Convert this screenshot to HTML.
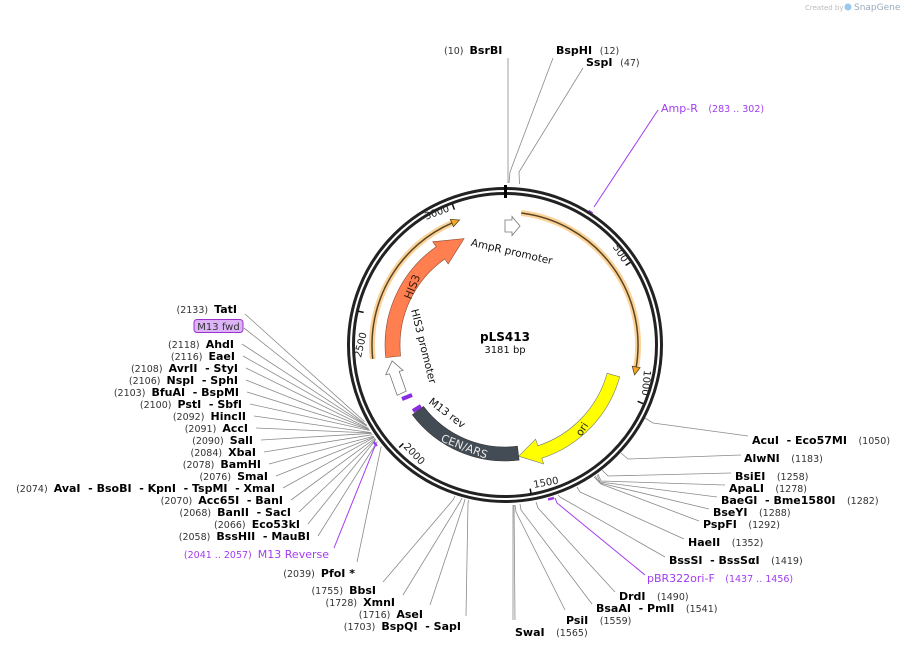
<!DOCTYPE html>
<html><head><meta charset="utf-8"><style>
html,body{margin:0;padding:0;background:#fff;}
svg{display:block;font-family:"DejaVu Sans","Liberation Sans",sans-serif;}
.b{font-weight:bold;font-size:11px;fill:#000;}
.n{font-size:9.5px;fill:#333;}
.p{fill:#a23cf0;font-size:11px;}
.pn{fill:#a23cf0;font-size:9.5px;}
text{white-space:pre;}
.l{stroke:#8a8a8a;stroke-width:0.8;fill:none;}
.t{font-size:10px;fill:#222;}
</style></head><body>
<svg width="902" height="649" viewBox="0 0 902 649" xmlns="http://www.w3.org/2000/svg">
<text x="805" y="10" style="font-size:7px;fill:#bbb">Created by</text>
<circle cx="848" cy="7" r="3.5" fill="#9cc8ec"/>
<text x="854" y="10" style="font-size:9px;fill:#9ab">SnapGene</text>

<!-- label lines -->
<g class="l">
<polyline points="508,58 508,170 508,183"/>
<polyline points="553,58 510,172 509,183"/>
<polyline points="583,68 519,172 519.5,184"/>
<line x1="245" y1="314" x2="364.5" y2="421.6"/>
<line x1="244" y1="328" x2="366.4" y2="425"/>
<line x1="242" y1="344" x2="366.9" y2="425.7"/>
<line x1="243" y1="356" x2="367" y2="426.2"/>
<line x1="246" y1="368" x2="368.4" y2="428.4"/>
<line x1="246" y1="380" x2="368.9" y2="429.1"/>
<line x1="247" y1="392" x2="369.3" y2="429.8"/>
<line x1="250" y1="404" x2="369.8" y2="430.5"/>
<line x1="254" y1="416" x2="371.1" y2="432.6"/>
<line x1="256" y1="428" x2="371.4" y2="433"/>
<line x1="261" y1="440" x2="371.6" y2="433.3"/>
<line x1="264" y1="452" x2="372.5" y2="434.7"/>
<line x1="269" y1="464" x2="373.6" y2="436.3"/>
<line x1="276" y1="476" x2="374" y2="436.9"/>
<line x1="283" y1="488" x2="374.3" y2="437.3"/>
<line x1="291" y1="500" x2="375" y2="438.3"/>
<line x1="299" y1="512" x2="375.6" y2="439"/>
<line x1="308" y1="524" x2="375.9" y2="439.5"/>
<line x1="318" y1="536" x2="377.4" y2="441.5"/>
<line x1="357" y1="562" x2="381.2" y2="446.3"/>
<polyline points="645,418 653,423 748,436"/>
<polyline points="621,453 628,459 741,455"/>
<polyline points="602,470 608,476 731,473"/>
<polyline points="598,474 601,481 725,485"/>
<polyline points="597,475 600,482 717,497"/>
<polyline points="595,476 600,483 709,509"/>
<polyline points="594,477 601,484 699,521"/>
<polyline points="577,487 580,492 684,539"/>
<polyline points="558,495 560,497 665,557"/>
<polyline points="536,502 538,508 615,592"/>
<polyline points="520,504 521,510 592,604"/>
<polyline points="515,505 516,512 565,610"/>
<line x1="514" y1="505" x2="515" y2="620"/>
<line x1="513" y1="505" x2="513" y2="620"/>
<polyline points="469,500 468,503 466,616"/>
<polyline points="465,499 464,503 430,605"/>
<polyline points="462,498 460,502 403,595"/>
<polyline points="455,496 453,500 383,582"/>
</g>
<!-- purple primer lines -->
<g stroke="#a23cf0" stroke-width="1" fill="none">
<line x1="658" y1="110" x2="594" y2="207"/>
<line x1="334" y1="548" x2="375" y2="446"/>
<polyline points="645,575 557,503 555,498"/>
</g>
<g stroke="#a23cf0" stroke-width="2.5" fill="none">
<path d="M 588.5 211 A 162 162 0 0 1 592.5 213.5"/>
<path d="M 376.8 446 A 163 163 0 0 1 373.8 442"/>
<path d="M 554 498 A 160 160 0 0 1 548 499.4"/>
</g>

<!-- rings -->
<circle cx="505" cy="345" r="156.5" fill="none" stroke="#222" stroke-width="3"/>
<circle cx="505" cy="345" r="151.5" fill="none" stroke="#222" stroke-width="3"/>
<line x1="505.5" y1="185" x2="505.5" y2="198" stroke="#000" stroke-width="3"/>
<!-- ticks -->
<g stroke="#111" stroke-width="1.5">
<line x1="625.6" y1="265.4" x2="630.3" y2="262.4"/>
<line x1="637.6" y1="401.3" x2="643" y2="403.6"/>
<line x1="530.2" y1="488.6" x2="531.2" y2="494.5"/>
<line x1="403.4" y1="443.4" x2="399.2" y2="447.4"/>
<line x1="363.6" y1="312.4" x2="357.8" y2="311.1"/>
<line x1="454.4" y1="209.6" x2="452.3" y2="204"/>
</g>
<g class="t">
<text transform="translate(623,263) rotate(56.6)" text-anchor="end">500</text>
<text transform="translate(644,370) rotate(95)" text-anchor="start">1000</text>
<text transform="translate(534,488) rotate(-10)">1500</text>
<text transform="translate(403,447) rotate(46)">2000</text>
<text transform="translate(361,358) rotate(-77)" text-anchor="start">2500</text>
<text transform="translate(450,211) rotate(-20.5)" text-anchor="end">3000</text>
</g>

<!-- AmpR band right -->
<path d="M 521.2 213 A 133 133 0 0 1 635.6 370.4" fill="none" stroke="#fbd39a" stroke-width="6"/>
<path d="M 521.2 213 A 133 133 0 0 1 635.6 370.4" fill="none" stroke="#5b4520" stroke-width="1.5"/>
<polygon points="634.6,374.9 632.2,366.3 640.1,367.6" fill="#f5a623" stroke="#5b4520" stroke-width="0.8"/>
<!-- left band -->
<path d="M 372.7 358.9 A 133 133 0 0 1 453 222.6" fill="none" stroke="#fbd39a" stroke-width="6"/>
<path d="M 372.7 358.9 A 133 133 0 0 1 453 222.6" fill="none" stroke="#5b4520" stroke-width="1.5"/>
<polygon points="459.5,220 453.5,226.7 450.3,219.4" fill="#f5a623" stroke="#5b4520" stroke-width="0.8"/>

<!-- HIS3 -->
<path d="M 385.7 357.5 A 120 120 0 0 1 436.2 246.7 L 432.7 241.8 L 464.1 238.6 L 448.2 263.9 L 444.8 259 A 105 105 0 0 0 400.6 356 Z" fill="#ff7f50" stroke="#8a4a30" stroke-width="0.6"/>
<text transform="translate(411,300) rotate(-68)" style="font-size:11px;fill:#3a1a0a">HIS3</text>
<!-- HIS3 promoter -->
<polygon points="397.2,395.3 389.5,373.8 385.7,374.8 392.1,360.9 403.1,370.4 399.2,371.4 406.2,391.1" fill="#fff" stroke="#777" stroke-width="0.8"/>
<text transform="translate(411,310) rotate(76)" style="font-size:10.5px;fill:#111">HIS3 promoter</text>
<!-- AmpR promoter -->
<polygon points="505,220 512,220 512,216.5 520,226 512,235.5 512,232 505,232" fill="#fff" stroke="#777" stroke-width="0.8"/>
<text transform="translate(511,255) rotate(13)" text-anchor="middle" style="font-size:10.5px;fill:#111">AmpR promoter</text>

<!-- ori -->
<path d="M 619.7 376.8 A 119 119 0 0 1 541.8 458.2 L 543.6 463.9 L 518.7 456.2 L 535.6 439.2 L 537.8 445.8 A 106 106 0 0 0 607.1 373.3 Z" fill="#ffff00" stroke="#777" stroke-width="0.6"/>
<text transform="translate(585,431) rotate(-57)" text-anchor="middle" style="font-size:10.5px;fill:#222">ori</text>
<!-- CEN/ARS -->
<path d="M 519.1 460.1 A 116 116 0 0 1 412.4 414.8 L 423.5 406.4 A 102 102 0 0 0 517.4 446.2 Z" fill="#434b55" stroke="#333" stroke-width="0.6"/>
<text transform="translate(463,450) rotate(21)" text-anchor="middle" style="font-size:11px;fill:#e8e8e8">CEN/ARS</text>
<line x1="413" y1="411" x2="421" y2="406" stroke="#8a2be2" stroke-width="4"/>
<line x1="402" y1="399" x2="412" y2="395" stroke="#8a2be2" stroke-width="4"/>
<text transform="translate(428,403) rotate(37)" style="font-size:10.5px;fill:#111">M13 rev</text>

<!-- center -->
<text x="505" y="341" text-anchor="middle" style="font-size:12px;font-weight:bold;fill:#000">pLS413</text>
<text x="505" y="353" text-anchor="middle" style="font-size:10px;fill:#111">3181 bp</text>

<!-- top labels -->
<text x="444" y="54"><tspan class="n">(10)  </tspan><tspan class="b">BsrBI</tspan></text>
<text x="556" y="54"><tspan class="b">BspHI  </tspan><tspan class="n">(12)</tspan></text>
<text x="586" y="66"><tspan class="b">SspI  </tspan><tspan class="n">(47)</tspan></text>
<text x="661" y="112"><tspan class="p">Amp-R   </tspan><tspan class="pn">(283 .. 302)</tspan></text>

<!-- left labels -->
<g text-anchor="end">
<text x="237" y="313"><tspan class="n">(2133)  </tspan><tspan class="b">TatI</tspan></text>
<rect x="194" y="319.5" width="49" height="13" rx="3" fill="#dcb3f7" stroke="#9933cc" stroke-width="1"/>
<text x="218.5" y="330" text-anchor="middle" style="font-size:10px;fill:#333">M13 fwd</text>
<text x="234" y="348"><tspan class="n">(2118)  </tspan><tspan class="b">AhdI</tspan></text>
<text x="235" y="360"><tspan class="n">(2116)  </tspan><tspan class="b">EaeI</tspan></text>
<text x="238" y="372"><tspan class="n">(2108)  </tspan><tspan class="b">AvrII  - StyI</tspan></text>
<text x="238" y="384"><tspan class="n">(2106)  </tspan><tspan class="b">NspI  - SphI</tspan></text>
<text x="239" y="396"><tspan class="n">(2103)  </tspan><tspan class="b">BfuAI  - BspMI</tspan></text>
<text x="242" y="408"><tspan class="n">(2100)  </tspan><tspan class="b">PstI  - SbfI</tspan></text>
<text x="246" y="420"><tspan class="n">(2092)  </tspan><tspan class="b">HincII</tspan></text>
<text x="248" y="432"><tspan class="n">(2091)  </tspan><tspan class="b">AccI</tspan></text>
<text x="253" y="444"><tspan class="n">(2090)  </tspan><tspan class="b">SalI</tspan></text>
<text x="256" y="456"><tspan class="n">(2084)  </tspan><tspan class="b">XbaI</tspan></text>
<text x="261" y="468"><tspan class="n">(2078)  </tspan><tspan class="b">BamHI</tspan></text>
<text x="268" y="480"><tspan class="n">(2076)  </tspan><tspan class="b">SmaI</tspan></text>
<text x="275" y="492"><tspan class="n">(2074)  </tspan><tspan class="b">AvaI  - BsoBI  - KpnI  - TspMI  - XmaI</tspan></text>
<text x="283" y="504"><tspan class="n">(2070)  </tspan><tspan class="b">Acc65I  - BanI</tspan></text>
<text x="291" y="516"><tspan class="n">(2068)  </tspan><tspan class="b">BanII  - SacI</tspan></text>
<text x="300" y="528"><tspan class="n">(2066)  </tspan><tspan class="b">Eco53kI</tspan></text>
<text x="310" y="540"><tspan class="n">(2058)  </tspan><tspan class="b">BssHII  - MauBI</tspan></text>
<text x="329" y="558"><tspan class="pn">(2041 .. 2057)  </tspan><tspan class="p">M13 Reverse</tspan></text>
<text x="355" y="577"><tspan class="n">(2039)  </tspan><tspan class="b">PfoI *</tspan></text>
<text x="376" y="594"><tspan class="n">(1755)  </tspan><tspan class="b">BbsI</tspan></text>
<text x="395" y="606"><tspan class="n">(1728)  </tspan><tspan class="b">XmnI</tspan></text>
<text x="423" y="618"><tspan class="n">(1716)  </tspan><tspan class="b">AseI</tspan></text>
<text x="461" y="630"><tspan class="n">(1703)  </tspan><tspan class="b">BspQI  - SapI</tspan></text>
</g>

<!-- right labels -->
<text x="752" y="444"><tspan class="b">AcuI  - Eco57MI   </tspan><tspan class="n">(1050)</tspan></text>
<text x="744" y="462"><tspan class="b">AlwNI   </tspan><tspan class="n">(1183)</tspan></text>
<text x="735" y="480"><tspan class="b">BsiEI   </tspan><tspan class="n">(1258)</tspan></text>
<text x="729" y="492"><tspan class="b">ApaLI   </tspan><tspan class="n">(1278)</tspan></text>
<text x="721" y="504"><tspan class="b">BaeGI  - Bme1580I   </tspan><tspan class="n">(1282)</tspan></text>
<text x="713" y="516"><tspan class="b">BseYI   </tspan><tspan class="n">(1288)</tspan></text>
<text x="703" y="528"><tspan class="b">PspFI   </tspan><tspan class="n">(1292)</tspan></text>
<text x="688" y="546"><tspan class="b">HaeII   </tspan><tspan class="n">(1352)</tspan></text>
<text x="669" y="564"><tspan class="b">BssSI  - BssSαI   </tspan><tspan class="n">(1419)</tspan></text>
<text x="647" y="582"><tspan class="p">pBR322ori-F   </tspan><tspan class="pn">(1437 .. 1456)</tspan></text>
<text x="619" y="600"><tspan class="b">DrdI   </tspan><tspan class="n">(1490)</tspan></text>
<text x="596" y="612"><tspan class="b">BsaAI  - PmlI   </tspan><tspan class="n">(1541)</tspan></text>
<text x="566" y="624"><tspan class="b">PsiI   </tspan><tspan class="n">(1559)</tspan></text>
<text x="515" y="636"><tspan class="b">SwaI   </tspan><tspan class="n">(1565)</tspan></text>
</svg>
</body></html>
